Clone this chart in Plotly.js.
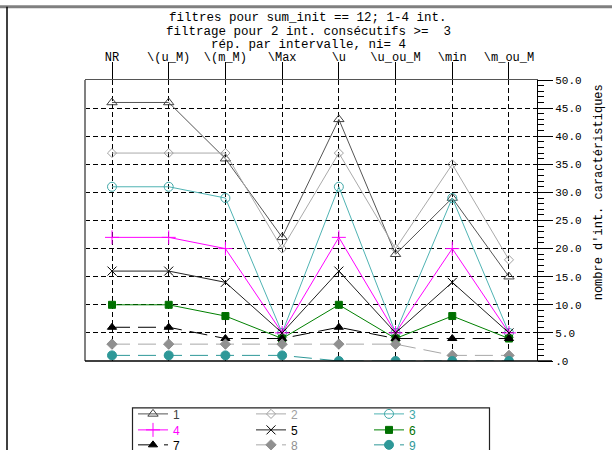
<!DOCTYPE html>
<html>
<head>
<meta charset="utf-8">
<script src="https://cdn.plot.ly/plotly-3.0.1.min.js"></script>
<style>html,body{margin:0;padding:0;background:#fff;}#chart{width:612px;height:450px;}</style>
</head>
<body>
<div id="chart"></div>
<script>
const categories = ["NR", "\\(u_M)", "\\(m_M)", "\\Max", "\\u", "\\u_ou_M", "\\min", "\\m_ou_M"];
const seriesNames = ["1", "2", "3", "4", "5", "6", "7", "8", "9"];
const s1 = [46, 46, 36, 22, 43, 19, 29, 15];
const s2 = [37, 37, 37, 20, 37, 20, 35, 18];
const s3 = [31, 31, 29, 5, 31, 5, 29, 5];
const s4 = [22, 22, 20, 5, 22, 5, 20, 5];
const s5 = [16, 16, 14, 5, 16, 5, 14, 5];
const s6 = [10, 10, 8, 4, 10, 4, 8, 4];
const s7 = [6, 6, 4, 4, 6, 4, 4, 4];
const s8 = [3, 3, 3, 3, 3, 3, 1, 1];
const s9 = [1, 1, 1, 1, 0, 0, 0, 0];
const yTickVals = [0, 5, 10, 15, 20, 25, 30, 35, 40, 45, 50];
const yTickText = [".0", "5.0", "10.0", "15.0", "20.0", "25.0", "30.0", "35.0", "40.0", "45.0", "50.0"];
const titleLines = ["filtres pour sum_init == 12; 1-4 int.", "filtrage pour 2 int. consécutifs >=  3", "rép. par intervalle, ni= 4"];
const yTitle = "nombre d'int. caractéristiques";

const allSeries = [s1, s2, s3, s4, s5, s6, s7, s8, s9];
const styles = [
  {lc: "#555555", mc: "#404040", sym: "triangle-up-open", ms: 9, dash: "solid"},
  {lc: "#aaaaaa", mc: "#a0a0a0", sym: "diamond-open", ms: 7, dash: "solid"},
  {lc: "#4fb3b3", mc: "#40a8a8", sym: "circle-open", ms: 9, dash: "solid"},
  {lc: "#ff00ff", mc: "#ff00ff", sym: "cross-thin-open", ms: 10, dash: "solid"},
  {lc: "#222222", mc: "#000000", sym: "x-thin-open", ms: 9, dash: "solid"},
  {lc: "#008000", mc: "#007000", sym: "square", ms: 7, dash: "solid"},
  {lc: "#000000", mc: "#000000", sym: "triangle-up", ms: 8, dash: "18px,8px"},
  {lc: "#a8a8a8", mc: "#909090", sym: "diamond", ms: 8, dash: "18px,8px"},
  {lc: "#2e9898", mc: "#2e9898", sym: "circle", ms: 9, dash: "18px,8px"}
];
const legendIds = ["legend", "legend2", "legend3"];

const traces = allSeries.map((ys, i) => ({
  type: "scatter",
  mode: "lines+markers",
  x: categories,
  y: ys,
  name: '<span style="color:' + styles[i].mc + '">' + seriesNames[i] + '</span>',
  legend: legendIds[Math.floor(i / 3)],
  line: {color: styles[i].lc, width: 1, dash: styles[i].dash},
  marker: {symbol: styles[i].sym, size: styles[i].ms, color: styles[i].mc,
           line: {color: styles[i].mc, width: 1}}
}));

const mono = "Liberation Mono, DejaVu Sans Mono, monospace";
const L = 85, R = 537, T = 79.5, B = 361;
const pw = R - L, ph = B - T;
const px = v => (v - L) / pw;
const py = v => (B - v) / ph;

const annotations = titleLines.map((t, i) => ({
  text: t, xref: "paper", yref: "paper", x: px(308), y: py([17, 31, 44][i]),
  xanchor: "center", yanchor: "middle", showarrow: false,
  font: {family: mono, size: 12.5, color: "#000"}
}));
annotations.push({
  text: yTitle, xref: "paper", yref: "paper", x: px(599), y: py(192),
  xanchor: "center", yanchor: "middle", textangle: -90, showarrow: false,
  font: {family: mono, size: 12, color: "#000"}
});

const shapes = [
  {type: "line", xref: "paper", yref: "paper", x0: px(0), x1: px(612), y0: py(6), y1: py(6), line: {color: "#808080", width: 3}},
  {type: "line", xref: "paper", yref: "paper", x0: px(7), x1: px(7), y0: py(6), y1: py(452), line: {color: "#000", width: 1.5}},
  {type: "line", xref: "paper", yref: "paper", x0: 0, x1: 0, y0: 0, y1: 1, line: {color: "#808080", width: 2}},
  {type: "line", xref: "paper", yref: "paper", x0: 0, x1: px(552), y0: 0, y1: 0, line: {color: "#000", width: 1.5}},
  {type: "rect", xref: "paper", yref: "paper", x0: px(132.5), x1: px(489.5), y0: py(408), y1: py(460),
   line: {color: "#222", width: 1.2}, fillcolor: "#fff", layer: "below"}
];

function legendRow(yc) {
  return {
    orientation: "h", x: px(133), xanchor: "left", y: py(yc), yanchor: "middle",
    entrywidth: 73, entrywidthmode: "pixels",
    borderwidth: 0, bgcolor: "rgba(0,0,0,0)",
    font: {family: "Liberation Sans, Arial, sans-serif", size: 12, color: "#000"},
    traceorder: "normal", itemwidth: 30
  };
}

const layout = {
  width: 612, height: 450,
  margin: {l: L, r: 612 - R, t: T, b: 450 - B, pad: 0, autoexpand: false},
  paper_bgcolor: "#fff", plot_bgcolor: "#fff",
  showlegend: true,
  legend: legendRow(414),
  legend2: legendRow(430),
  legend3: legendRow(445),
  xaxis: {
    type: "category", side: "top", range: [-0.476, 7.494],
    showline: true, linecolor: "#555", linewidth: 1.5,
    ticks: "outside", ticklen: 17, tickcolor: "#000", tickwidth: 1,
    showgrid: true, gridcolor: "#000", gridwidth: 1, griddash: "5px,3px",
    tickfont: {family: mono, size: 12, color: "#000"},
    ticklabelstandoff: -4,
    tickangle: 0, zeroline: false, fixedrange: true
  },
  yaxis: {
    side: "right", range: [0, 50],
    tickvals: yTickVals, ticktext: yTickText,
    showline: true, linecolor: "#000", linewidth: 1,
    ticks: "outside", ticklen: 15, tickcolor: "#000", tickwidth: 1,
    minor: {dtick: 1, tick0: 0, ticks: "outside", ticklen: 6, tickcolor: "#000", tickwidth: 1, showgrid: false},
    showgrid: true, gridcolor: "#000", gridwidth: 1, griddash: "5px,3px",
    tickfont: {family: mono, size: 11, color: "#000"},
    zeroline: false, fixedrange: true
  },
  annotations: annotations,
  shapes: shapes
};

Plotly.newPlot("chart", traces, layout, {displayModeBar: false, staticPlot: true});
</script>
</body>
</html>
